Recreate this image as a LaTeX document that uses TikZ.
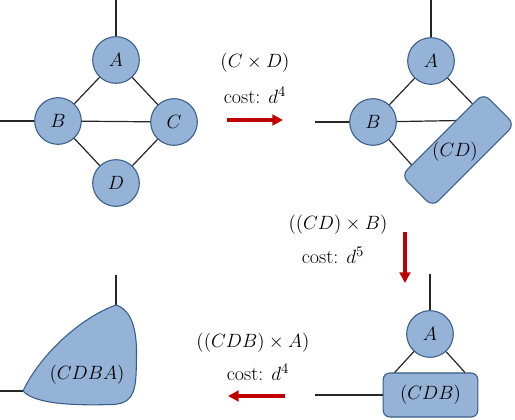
\documentclass[tikz,border=0pt]{standalone}
\usetikzlibrary{arrows.meta,calc}
\definecolor{nodefill}{HTML}{95B3D7}
\definecolor{nodeedge}{HTML}{385D8A}
\definecolor{arrowred}{HTML}{C00000}
\begin{document}
\begin{tikzpicture}[x=0.75pt,y=-0.75pt,font=\fontsize{15}{18}\selectfont,
  tn/.style={circle,draw=nodeedge,fill=nodefill,line width=0.8pt,minimum size=35pt,inner sep=0pt},
  rbox/.style={rectangle,rounded corners=6pt,draw=nodeedge,fill=nodefill,line width=0.8pt,inner sep=0pt},
  leg/.style={draw=black!85,line width=0.9pt},
  redarrow/.style={draw=arrowred,line width=2.6pt,-{Triangle[length=8pt,width=8pt]}}]
\useasboundingbox[fill=white] (0,0) rectangle (515,420);

% ---- panel 1
\node[tn] (A1) at (116,60) {$A$};
\node[tn] (B1) at (58,121) {$B$};
\node[tn] (C1) at (174,122) {$C$};
\node[tn] (D1) at (116,183) {$D$};
\coordinate (A1t) at (116,0);
\coordinate (B1l) at (0,121);
\draw[leg] (A1t) -- (A1);
\draw[leg] (B1l) -- (B1);
\draw[leg] (A1) -- (B1);
\draw[leg] (A1) -- (C1);
\draw[leg] (B1) -- (C1);
\draw[leg] (B1) -- (D1);
\draw[leg] (C1) -- (D1);

% ---- panel 2
\node[tn] (A2) at (431,61) {$A$};
\node[tn] (B2) at (373,122) {$B$};
\node[rbox,minimum width=87pt,minimum height=33pt,rotate=45] (CD) at (458,150) {};
\node (CDl) at (455,152) {$(CD)$};
\coordinate (A2t) at (431,0);
\coordinate (B2l) at (315,122);
\draw[leg] (A2t) -- (A2);
\draw[leg] (B2l) -- (B2);
\draw[leg] (A2) -- (B2);
\draw[leg] (A2) -- ($(CD.north west)!0.866!(CD.north east)$);
\draw[leg] (B2) -- ($(CD.north west)!0.663!(CD.north east)$);
\draw[leg] (B2) -- ($(CD.north west)!0.13!(CD.north east)$);

% ---- panel 3
\node[tn] (A3) at (430,334) {$A$};
\node[rbox,rounded corners=5pt,minimum width=71pt,minimum height=33pt] (CDB) at (430.5,395) {$(CDB)$};
\coordinate (A3t) at (430,274);
\coordinate (CDBl) at (315,395);
\draw[leg] (A3t) -- (A3);
\draw[leg] (CDBl) -- (CDB);
\draw[leg] (A3) -- ($(CDB.north west)!0.126!(CDB.north east)$);
\draw[leg] (A3) -- ($(CDB.north west)!0.86!(CDB.north east)$);

% ---- panel 4
\coordinate (P4t) at (116,305);
\coordinate (P4l) at (23,391);
\coordinate (P4tt) at (116,275);
\coordinate (P4ll) at (0,391);
\draw[leg] (P4tt) -- (P4t);
\draw[leg] (P4ll) -- (P4l);
\draw[draw=nodeedge,fill=nodefill,line width=0.8pt]
  (P4t) .. controls (131,310) and (137,328) .. (136.5,356)
  .. controls (136,385) and (137,404) .. (112,404.5)
  .. controls (80,405.5) and (35,405) .. (P4l)
  .. controls (40,355) and (80,318) .. (P4t) -- cycle;
\node (CDBA) at (87,375) {$(CDBA)$};

% ---- arrows and labels
\node (t1a) at (255,63) {$(C\times D)$};
\node (t1b) at (255,95) {cost: $d^4$};
\coordinate (r1s) at (227,120);
\coordinate (r1e) at (283,120);
\draw[redarrow] (r1s) -- (r1e);

\node (t2a) at (338,225) {$\big((CD)\times B\big)$};
\node (t2b) at (333,255) {cost: $d^5$};
\coordinate (r2s) at (405,232);
\coordinate (r2e) at (405,283);
\draw[redarrow] (r2s) -- (r2e);

\node (t3a) at (253,343) {$\big((CDB)\times A\big)$};
\node (t3b) at (258,372) {cost: $d^4$};
\coordinate (r3s) at (285,396);
\coordinate (r3e) at (228,396);
\draw[redarrow] (r3s) -- (r3e);
\end{tikzpicture}
\end{document}
